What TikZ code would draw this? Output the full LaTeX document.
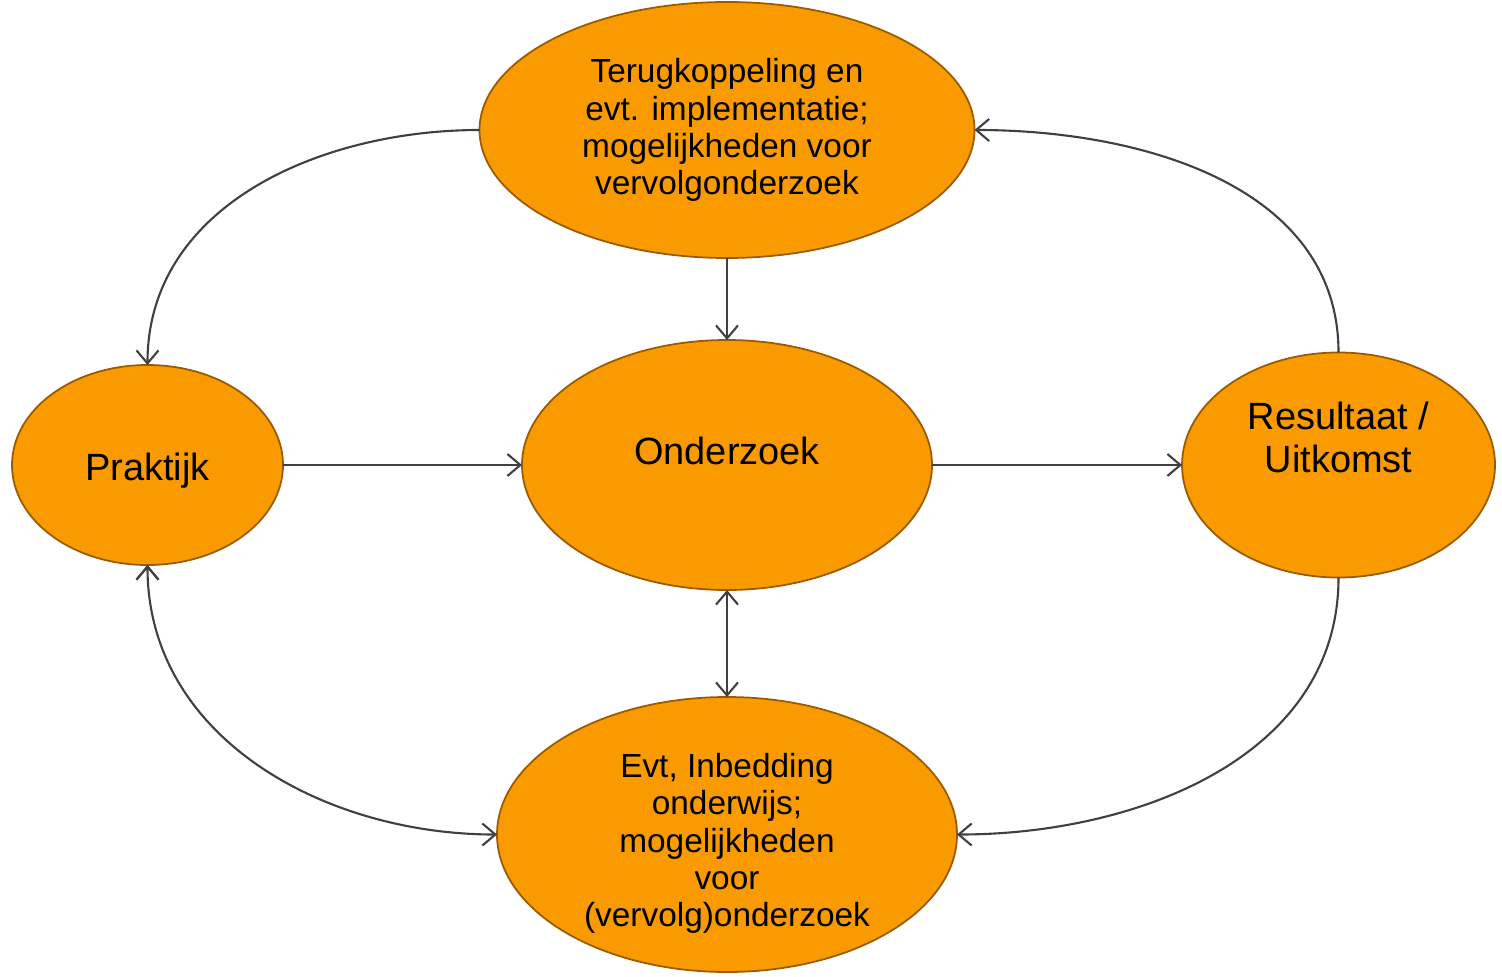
\documentclass[tikz,border=0pt]{standalone}
\usepackage{fontspec}
\setmainfont{Liberation Sans}
\usetikzlibrary{positioning,arrows.meta,shapes.geometric}
\definecolor{blobfill}{HTML}{F99B00}
\definecolor{blobline}{HTML}{9A5A00}
\definecolor{arrowline}{HTML}{404040}

\begin{document}
\begin{tikzpicture}[->,>={Straight Barb[length=1.3mm,width=2.2mm]},
    blob/.style={ellipse,draw=blobline,line width=0.5pt,fill=blobfill,inner sep=0pt,outer sep=0pt,align=center},
    small/.style={font=\fontsize{9.5}{10.6}\selectfont},
    big/.style={font=\fontsize{10.8}{12.2}\selectfont},
    conn/.style={draw=arrowline,line width=0.6pt}]
        \useasboundingbox (0,0) rectangle (15.02,-9.76);
        \node[blob,big,minimum width=4.10cm,minimum height=2.50cm] (ond) at (7.27,-4.65) {Onderzoek\\[-4.2pt]};
        \node[blob,big,minimum width=2.71cm,minimum height=2.00cm] (prak) [left=2.39cm of ond] {\rule{0pt}{11.3pt}Praktijk};
        \node[blob,big,minimum width=3.13cm,minimum height=2.25cm] (res) [right=2.50cm of ond] {Resultaat /\\Uitkomst\\[3.7pt]};
        \node[blob,small,minimum width=4.95cm,minimum height=2.56cm] (terug) [above=0.82cm of ond]
            {Terugkoppeling en\\evt. implementatie;\\mogelijkheden voor\\vervolgonderzoek};
        \node[blob,small,inner ysep=-6pt,minimum width=4.60cm,minimum height=2.75cm] (inbed) [below=1.07cm of ond]
            {\rule{0pt}{12pt}Evt, Inbedding\\onderwijs;\\mogelijkheden\\voor\\(vervolg)onderzoek};

        \path[conn] (terug) edge (ond)
                    (prak) edge (ond)
                    (ond) edge (res)
                    (ond) edge[<->] (inbed)
                    (terug.west) edge[out=180,in=90] (prak.north)
                    (res.north) edge[out=90,in=0] (terug.east)
                    (res.south) edge[out=-90,in=0] (inbed.east)
                    (prak.south) edge[<->,out=-90,in=180] (inbed.west);
    \end{tikzpicture}
\end{document}
